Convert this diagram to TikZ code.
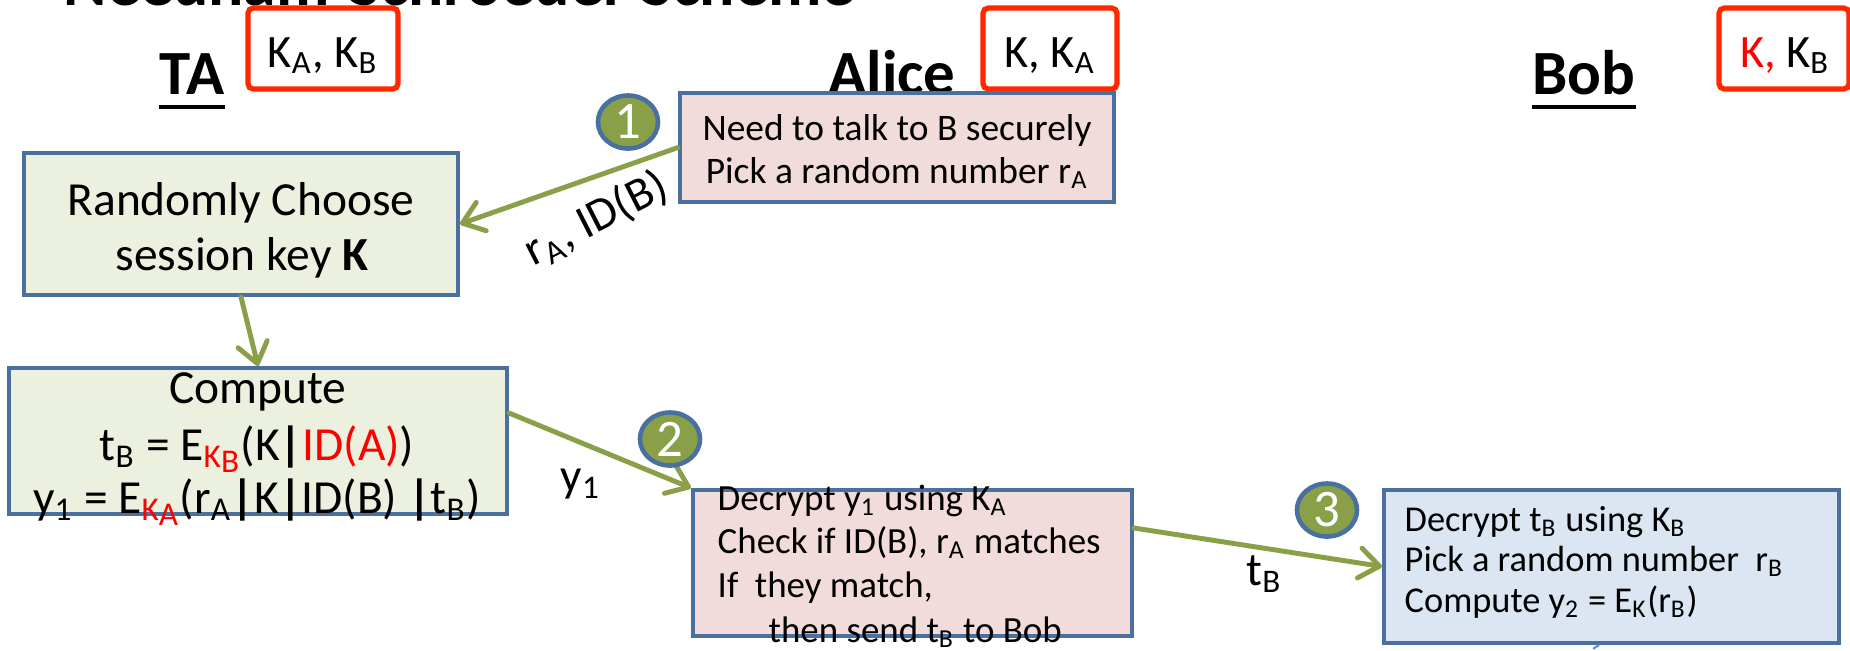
\documentclass[tikz,border=0pt]{standalone}
\usepackage{fontspec}
\setmainfont{Carlito}
\usetikzlibrary{arrows.meta,shapes.geometric,fit,calc}

\definecolor{boxline}{HTML}{4A70A0}
\definecolor{pinkfill}{HTML}{F2DCDB}
\definecolor{greenfill}{HTML}{EBF1DE}
\definecolor{bluefill}{HTML}{DCE6F2}
\definecolor{olive}{HTML}{8AA048}
\definecolor{keyred}{HTML}{FF2800}
\definecolor{txtred}{HTML}{FF0000}
\definecolor{dotblue}{HTML}{5B8FD0}

\newcommand\sbt[1]{\textsubscript{#1}}
\newcommand\vb{\textbf{|}}

\begin{document}
\begin{tikzpicture}[x=0.01cm,y=-0.01cm,
  procbox/.style={draw=boxline,line width=1.15pt,inner sep=0pt},
  keybox/.style={draw=keyred,fill=white,line width=1.5pt,rounded corners=1.5pt,inner sep=0pt},
  flow/.style={draw=olive,line width=1.4pt,line cap=round,
    -{Straight Barb[length=0.2cm,width=0.3cm,round]}},
  numdot/.style={ellipse,draw=boxline,fill=olive,line width=1.3pt,
    minimum width=0.6cm,minimum height=0.53cm,inner sep=0pt,
    text=white,font=\fontsize{15}{17}\selectfont},
  who/.style={anchor=base,inner sep=0pt,font=\fontsize{17.9}{20}\selectfont\bfseries},
  uline/.style={line width=1.4pt},
  keytxt/.style={anchor=base,inner sep=0pt,font=\fontsize{13.2}{16}\selectfont},
  bigtxt/.style={anchor=base,inner sep=0pt,font=\fontsize{13.5}{16}\selectfont},
  smalltxt/.style={anchor=base west,inner sep=0pt,font=\fontsize{10.35}{13}\selectfont},
  midtxt/.style={anchor=base west,inner sep=0pt,font=\fontsize{10.5}{13}\selectfont},
  ctrtxt/.style={anchor=base,inner sep=0pt,font=\fontsize{10.65}{13}\selectfont},
  msg/.style={inner sep=0pt,font=\fontsize{13.4}{16}\selectfont}]

\path[use as bounding box,clip] (0,0) rectangle (1850,650);

% heading, mostly above the frame
\node[anchor=base west,inner sep=0pt,font=\fontsize{18.7}{22}\selectfont\bfseries]
  (title) at (63,5) {Needham-Schroeder Scheme};

% parties and the keys each one holds
\node[who] (nTA) at (192,94) {TA};
\node[who] (nAlice) at (892,94) {Alice};
\node[who] (nBob) at (1584,94) {Bob};
\foreach \n in {nTA,nAlice,nBob}
  \draw[uline] ($(\n.base west)+(0,13)$) -- ($(\n.base east)+(0,13)$);

\node[keybox,fit={(248,8) (398,89)}] (kTA) {};
\node[keytxt] (kTAt) at (323,67) {K\sbt{A}, K\sbt{B}};
\node[keybox,fit={(983,8) (1117,89)}] (kAlice) {};
\node[keytxt] (kAlicet) at (1050,67) {K, K\sbt{A}};
\node[keybox,fit={(1719,8) (1849,89)}] (kBob) {};
\node[keytxt] (kBobt) at (1785,67) {\textcolor{txtred}{K,} K\sbt{B}};

% process boxes
\node[procbox,fit={(24,153) (458,295)},fill=greenfill] (ta) {};
\node[procbox,fit={(9,368) (507,514)},fill=greenfill] (comp) {};
\node[procbox,fit={(680,93) (1114,202)},fill=pinkfill] (a1) {};
\node[procbox,fit={(693,490) (1132,636)},fill=pinkfill] (a2) {};
\node[procbox,fit={(1384,490) (1839,643)},fill=bluefill] (bob) {};

% messages
\draw[flow] (a1.west) -- (ta.east);
\draw[flow] (ta.south) -- (comp.north);
\draw[flow] ($(comp.east)+(0,-28)$) -- (a2.north west);
\draw[flow] ($(a2.east)+(0,-35)$) -- (bob.west);

\coordinate (tail) at (1599,645);
\coordinate (tailend) at (1585,654);
\draw[dotblue,line width=0.6pt,dash pattern=on 2pt off 2pt] (tail) -- (tailend);

% step numbers
\node[numdot] (s1) at (628,122) {1};
\node[numdot] (s2) at (670,439) {2};
\node[numdot] (s3) at (1327,510) {3};

% message labels
\node[msg,rotate=27] (m1) at (596,219) {r\sbt{A}, ID(B)};
\node[msg,anchor=base west] (m2) at (560,491) {y\sbt{1}};
\node[msg,anchor=base west] (m3) at (1246,585) {t\sbt{B}};

% box contents
\node[bigtxt] (ta1) at (241,215) {Randomly Choose};
\node[bigtxt] (ta2) at (242,270) {session key \textbf{K}};

\node[bigtxt] (c1) at (258,403) {Compute};
\node[bigtxt] (c2) at (257,460) {t\sbt{B} = E\sbt{\color{txtred}K\raisebox{-0.3ex}{B}}(K\vb\textcolor{txtred}{ID(A)})};
\node[bigtxt] (c3) at (257,513) {y\sbt{1} = E\sbt{\color{txtred}K\raisebox{-0.3ex}{A}}(r\sbt{A}\vb K\vb ID(B) \vb t\sbt{B})};

\node[ctrtxt] (al1) at (897,140) {Need to talk to B securely};
\node[ctrtxt] (al2) at (897,183) {Pick a random number r\sbt{A}};

\node[midtxt] (al3) at (717,510) {Decrypt y\sbt{1} using K\sbt{A}};
\node[midtxt] (al4) at (717,553) {Check if ID(B), r\sbt{A} matches};
\node[midtxt] (al5) at (717,597) {If\ \ they match,};
\node[midtxt] (al6) at (768,642) {then send t\sbt{B} to Bob};

\node[smalltxt] (b1) at (1404,531) {Decrypt t\sbt{B} using K\sbt{B}};
\node[smalltxt] (b2) at (1404,571) {Pick a random number\ \ r\sbt{B}};
\node[smalltxt] (b3) at (1404,612) {Compute y\sbt{2} = E\sbt{K}(r\sbt{B})};

\end{tikzpicture}
\end{document}
